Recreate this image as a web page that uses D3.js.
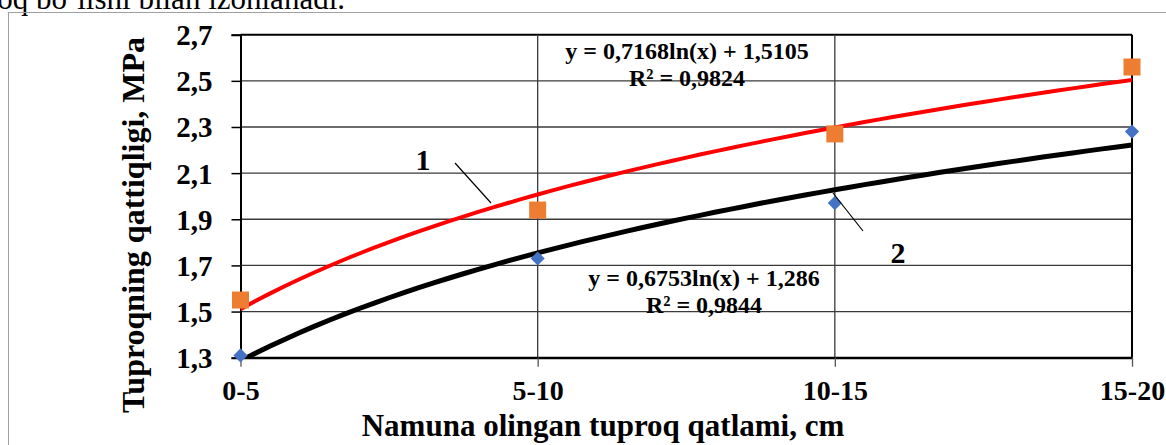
<!doctype html>
<html>
<head>
<meta charset="utf-8">
<script src="https://d3js.org/d3.v7.min.js"></script>
<style>
  body { margin: 0; background: #fff; }
  svg { display: block; font-family: "Liberation Serif", "Times New Roman", serif; }
</style>
</head>
<body>
<svg width="1166" height="445" id="chart"></svg>
<script>
// categories (soil layer depth) and measured values
var layers = ["0-5", "5-10", "10-15", "15-20"];
var series1 = [1.55, 1.94, 2.27, 2.56];   // orange squares, curve 1
var series2 = [1.31, 1.73, 1.97, 2.28];   // blue diamonds, curve 2
var yTicks = [1.3, 1.5, 1.7, 1.9, 2.1, 2.3, 2.5, 2.7];
// log trendlines shown on the chart: y = a*ln(x) + b
var trend1 = [0.7168, 1.5105];
var trend2 = [0.6753, 1.286];

var svg = d3.select("#chart");

var x = d3.scaleLinear().domain([1, 4]).range([240.5, 1132]);
var y = d3.scaleLinear().domain([1.3, 2.7]).range([357.7, 34.7]);
var fmt = function(d) { return d3.format(".1f")(d).replace(".", ","); };

// text cut off above the chart
svg.append("text")
   .attr("x", 345).attr("y", 9)
   .attr("text-anchor", "end")
   .attr("font-size", "31px")
   .text("oq bo‘lishi bilan izohlanadi.");

// outer frame
svg.append("rect")
   .attr("x", 8.5).attr("y", 12.5)
   .attr("width", 1200).attr("height", 500)
   .attr("fill", "none")
   .attr("stroke", "#a0a0a0")
   .attr("stroke-width", 1);

// horizontal grid
svg.append("g").selectAll("line")
   .data(yTicks)
   .enter().append("line")
   .attr("x1", x(1)).attr("x2", x(4))
   .attr("y1", function(d) { return y(d); })
   .attr("y2", function(d) { return y(d); })
   .attr("stroke", function(d) { return d == 2.7 || d == 1.3 ? "#000" : "#3a3a3a"; })
   .attr("stroke-width", function(d) { return d == 2.7 || d == 1.3 ? 2 : 1.3; });

// vertical grid
svg.append("g").selectAll("line")
   .data([2, 3, 4])
   .enter().append("line")
   .attr("x1", function(d) { return x(d); })
   .attr("x2", function(d) { return x(d); })
   .attr("y1", y(2.7)).attr("y2", y(1.3))
   .attr("stroke", function(d) { return d == 4 ? "#000" : "#3a3a3a"; })
   .attr("stroke-width", function(d) { return d == 4 ? 2 : 1.3; });

// y axis
var yAxis = svg.append("g")
   .attr("transform", "translate(" + x(1) + ",0)")
   .call(d3.axisLeft(y).tickValues(yTicks).tickFormat(fmt).tickSize(9).tickPadding(19));
yAxis.select(".domain").attr("stroke", "#000").attr("stroke-width", 2);
yAxis.selectAll(".tick line").attr("stroke", "#000").attr("stroke-width", 1.5);
yAxis.selectAll("text")
     .attr("font-family", "Liberation Serif")
     .attr("font-weight", "bold")
     .attr("font-size", "29px")
     .attr("fill", "#000")
     .attr("dy", "0.34em");

// x axis
var xAxis = svg.append("g")
   .attr("transform", "translate(0," + y(1.3) + ")")
   .call(d3.axisBottom(x).tickValues([1, 2, 3, 4])
           .tickFormat(function(d) { return layers[d - 1]; })
           .tickSize(9).tickPadding(13).tickSizeOuter(0));
xAxis.select(".domain").attr("stroke", "#000").attr("stroke-width", 2);
xAxis.selectAll(".tick line").attr("stroke", "#555").attr("stroke-width", 1.3);
xAxis.selectAll("text")
     .attr("font-family", "Liberation Serif")
     .attr("font-weight", "bold")
     .attr("font-size", "28px")
     .attr("fill", "#000");

// clip for trend curves
svg.append("clipPath").attr("id", "plot")
   .append("rect")
   .attr("x", x(1)).attr("y", y(2.7))
   .attr("width", x(4) - x(1)).attr("height", y(1.3) - y(2.7));

var xs = d3.range(1, 4.001, 0.05);
var line = d3.line()
   .x(function(d) { return x(d[0]); })
   .y(function(d) { return y(d[1]); });

function curve(t) {
  return xs.map(function(v) { return [v, t[0] * Math.log(v) + t[1]]; });
}

var g = svg.append("g").attr("clip-path", "url(#plot)");
g.append("path").datum(curve(trend2))
 .attr("d", line).attr("fill", "none")
 .attr("stroke", "#000").attr("stroke-width", 5);
g.append("path").datum(curve(trend1))
 .attr("d", line).attr("fill", "none")
 .attr("stroke", "#ff0000").attr("stroke-width", 4);

// markers
svg.append("g").selectAll("rect")
   .data(series1)
   .enter().append("rect")
   .attr("x", function(d, i) { return x(i + 1) - 8.5; })
   .attr("y", function(d) { return y(d) - 8.5; })
   .attr("width", 17).attr("height", 17)
   .attr("fill", "#ed7d31");

svg.append("g").selectAll("path")
   .data(series2)
   .enter().append("path")
   .attr("d", d3.symbol().type(d3.symbolSquare).size(100))
   .attr("transform", function(d, i) { return "translate(" + x(i + 1) + "," + y(d) + ") rotate(45)"; })
   .attr("fill", "#4472c4");

// trendline equations
function eqLabel(cx, y1, t1, t2) {
  var t = svg.append("text")
     .attr("text-anchor", "middle")
     .attr("font-weight", "bold")
     .attr("font-size", "24px");
  t.append("tspan").attr("x", cx).attr("y", y1).text(t1);
  t.append("tspan").attr("x", cx).attr("y", y1 + 27).text(t2);
}
eqLabel(687, 59, "y = 0,7168ln(x) + 1,5105", "R² = 0,9824");
eqLabel(704, 286, "y = 0,6753ln(x) + 1,286", "R² = 0,9844");

// curve numbers with leader lines
svg.append("text").attr("x", 423).attr("y", 170)
   .attr("text-anchor", "middle").attr("font-weight", "bold").attr("font-size", "30px").text("1");
svg.append("line").attr("x1", 455).attr("y1", 163).attr("x2", 491).attr("y2", 203)
   .attr("stroke", "#000").attr("stroke-width", 1.2);
svg.append("text").attr("x", 898).attr("y", 263)
   .attr("text-anchor", "middle").attr("font-weight", "bold").attr("font-size", "30px").text("2");
svg.append("line").attr("x1", 833).attr("y1", 193).attr("x2", 863).attr("y2", 231)
   .attr("stroke", "#000").attr("stroke-width", 1.2);

// axis titles
svg.append("text")
   .attr("x", 603).attr("y", 436)
   .attr("text-anchor", "middle")
   .attr("font-weight", "bold")
   .attr("font-size", "31px")
   .text("Namuna olingan tuproq qatlami, cm");

svg.append("text")
   .attr("transform", "translate(144,225) rotate(-90)")
   .attr("text-anchor", "middle")
   .attr("font-weight", "bold")
   .attr("font-size", "32px")
   .text("Tuproqning qattiqligi, MPa");
</script>
</body>
</html>
